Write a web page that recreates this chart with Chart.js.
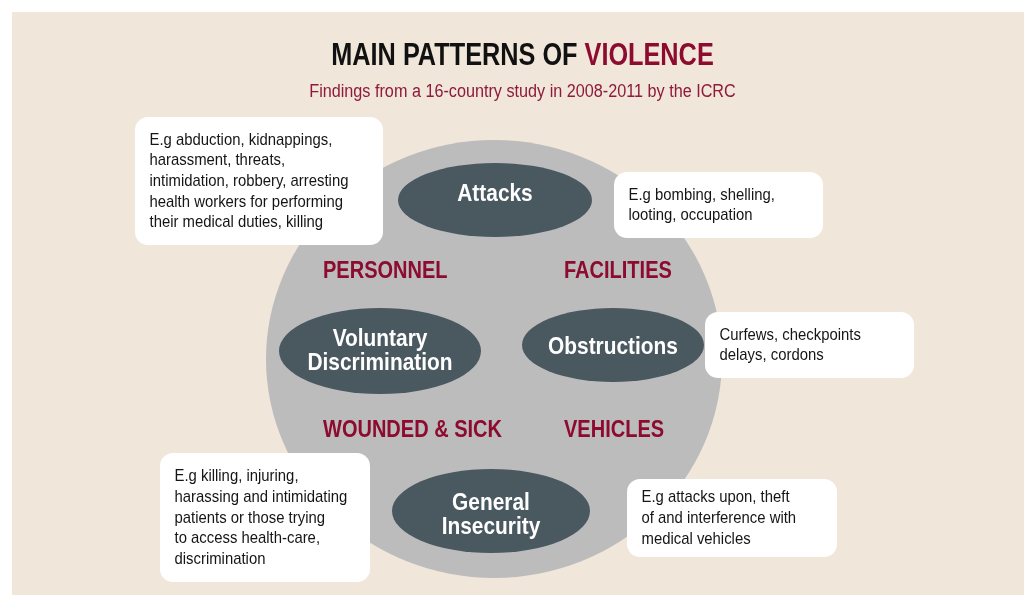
<!DOCTYPE html>
<html>
<head>
<meta charset="utf-8">
<title>Main patterns of violence</title>
<script src="https://cdn.jsdelivr.net/npm/chart.js@4"></script>
<style>
  html, body { margin: 0; padding: 0; background: #ffffff; }
  #wrap { width: 1024px; height: 595px; }
</style>
</head>
<body>
<div id="wrap"><canvas id="diagram" width="1024" height="595"></canvas></div>
<script>
// Textos do diagrama
const titleParts = ['MAIN PATTERNS OF ', 'VIOLENCE'];
const subtitle = 'Findings from a 16-country study in 2008-2011 by the ICRC';
const patterns = ['Attacks', 'Voluntary\nDiscrimination', 'Obstructions', 'General\nInsecurity'];
const categories = ['PERSONNEL', 'FACILITIES', 'WOUNDED & SICK', 'VEHICLES'];
const examples = [
  'E.g abduction, kidnappings,\nharassment, threats,\nintimidation, robbery, arresting\nhealth workers for performing\ntheir medical duties, killing',
  'E.g bombing, shelling,\nlooting, occupation',
  'Curfews, checkpoints\ndelays, cordons',
  'E.g killing, injuring,\nharassing and intimidating\npatients or those trying\nto access health-care,\ndiscrimination',
  'E.g attacks upon, theft\nof and interference with\nmedical vehicles'
];

// Layout (coordenadas no espaço da escala, 1 unidade = 1px)
const CIRCLE = { x: 494, y: 359, rx: 228, ry: 219 };
const PATTERN_POS = [
  { x: 495, y: 200, rx: 97, ry: 37, ty: 192 },
  { x: 380, y: 351, rx: 101, ry: 43, ty: 349 },
  { x: 613, y: 345, rx: 91, ry: 37, ty: 345.5 },
  { x: 491, y: 511, rx: 99, ry: 42, ty: 513 }
];
const CATEGORY_POS = [
  { x: 323, y: 278 }, { x: 564, y: 278 }, { x: 323, y: 437 }, { x: 564, y: 437 }
];
const BOX_POS = [
  { x: 135, y: 117, w: 248, h: 128 },
  { x: 614, y: 172, w: 209, h: 66 },
  { x: 705, y: 312, w: 209, h: 66 },
  { x: 160, y: 453, w: 210, h: 129 },
  { x: 627, y: 479, w: 210, h: 78 }
];

const COLORS = {
  panel: '#f0e6d9',
  circle: '#bcbcbc',
  node: '#4a5860',
  red: '#8c0b2f',
  sub: '#8f1a3c',
  text: '#151515',
  white: '#ffffff'
};

const FONT = '"Liberation Sans", Arial, sans-serif';

// Texto condensado (escala horizontal)
function condText(ctx, str, x, y, font, color, align, squeeze) {
  ctx.save();
  ctx.font = font;
  ctx.fillStyle = color;
  ctx.textBaseline = 'alphabetic';
  const w = ctx.measureText(str).width * squeeze;
  let x0 = x;
  if (align === 'center') x0 = x - w / 2;
  if (align === 'right') x0 = x - w;
  ctx.translate(x0, y);
  ctx.scale(squeeze, 1);
  ctx.textAlign = 'left';
  ctx.fillText(str, 0, 0);
  ctx.restore();
  return w;
}

function ellipse(ctx, x, y, rx, ry, color) {
  ctx.beginPath();
  ctx.ellipse(x, y, rx, ry, 0, 0, Math.PI * 2);
  ctx.fillStyle = color;
  ctx.fill();
}

function roundBox(ctx, x, y, w, h, r) {
  ctx.beginPath();
  ctx.roundRect(x, y, w, h, r);
  ctx.fillStyle = COLORS.white;
  ctx.fill();
}

const diagramPlugin = {
  id: 'diagram',
  beforeDraw(chart) {
    const { ctx } = chart;
    ctx.save();
    ctx.fillStyle = '#ffffff';
    ctx.fillRect(0, 0, chart.width, chart.height);
    ctx.fillStyle = COLORS.panel;
    ctx.fillRect(12, 12, chart.width - 12, chart.height - 12);
    ctx.restore();
  },
  afterDatasetsDraw(chart) {
    const { ctx, scales } = chart;
    const sx = scales.x, sy = scales.y;
    const dx = v => Math.abs(sx.getPixelForValue(v) - sx.getPixelForValue(0));
    const dy = v => Math.abs(sy.getPixelForValue(v) - sy.getPixelForValue(0));

    // título
    const tFont = 'bold 32px ' + FONT;
    const tSq = 0.79;
    ctx.save();
    ctx.font = tFont;
    const full = ctx.measureText(titleParts.join('')).width * tSq;
    ctx.restore();
    let tx = sx.getPixelForValue(522.5) - full / 2;
    const ty = sy.getPixelForValue(65);
    tx += condText(ctx, titleParts[0], tx, ty, tFont, '#111111', 'left', tSq);
    condText(ctx, titleParts[1], tx, ty, tFont, COLORS.red, 'left', tSq);
    condText(ctx, subtitle, sx.getPixelForValue(522.5), sy.getPixelForValue(97),
      '18px ' + FONT, COLORS.sub, 'center', 0.9);

    // círculo central
    const c = chart.getDatasetMeta(0).data[0];
    ellipse(ctx, c.x, c.y, dx(CIRCLE.rx), dy(CIRCLE.ry), COLORS.circle);

    // caixas de exemplos
    const bFont = '17px ' + FONT;
    const lh = 20.7;
    const capH = 17 * 0.716;
    chart.getDatasetMeta(3).data.forEach((pt, i) => {
      const b = BOX_POS[i];
      const w = dx(b.w), h = dy(b.h);
      roundBox(ctx, pt.x - w / 2, pt.y - h / 2, w, h, 13);
      const lines = examples[i].split('\n');
      const first = pt.y - (lines.length - 1) * lh / 2 + capH / 2 - 1;
      lines.forEach((ln, j) => {
        condText(ctx, ln, pt.x - w / 2 + 14.5, first + j * lh, bFont, COLORS.text, 'left', 0.875);
      });
    });

    // elipses dos padrões
    const nFont = 'bold 24px ' + FONT;
    chart.getDatasetMeta(1).data.forEach((pt, i) => {
      const p = PATTERN_POS[i];
      ellipse(ctx, pt.x, pt.y, dx(p.rx), dy(p.ry), COLORS.node);
      const lines = patterns[i].split('\n');
      const tyc = sy.getPixelForValue(p.ty);
      const nlh = 24;
      lines.forEach((ln, j) => {
        const by = tyc - (lines.length - 1) * nlh / 2 + j * nlh + 24 * 0.716 / 2;
        condText(ctx, ln, pt.x, by, nFont, COLORS.white, 'center', 0.87);
      });
    });

    // categorias
    chart.getDatasetMeta(2).data.forEach((pt, i) => {
      condText(ctx, categories[i], pt.x, pt.y, 'bold 23px ' + FONT, COLORS.red, 'left', 0.87);
    });
  }
};

const hidden = { pointRadius: 0, pointHoverRadius: 0, showLine: false };

new Chart(document.getElementById('diagram'), {
  type: 'scatter',
  data: {
    datasets: [
      { label: 'circle', data: [{ x: CIRCLE.x, y: CIRCLE.y }], ...hidden },
      { label: 'patterns', data: PATTERN_POS.map(p => ({ x: p.x, y: p.y })), ...hidden },
      { label: 'categories', data: CATEGORY_POS.map(p => ({ x: p.x, y: p.y })), ...hidden },
      { label: 'examples', data: BOX_POS.map(b => ({ x: b.x + b.w / 2, y: b.y + b.h / 2 })), ...hidden }
    ]
  },
  options: {
    responsive: false,
    animation: false,
    events: [],
    layout: { padding: 0 },
    plugins: {
      legend: { display: false },
      tooltip: { enabled: false }
    },
    scales: {
      x: { type: 'linear', min: 0, max: 1024, display: false },
      y: { type: 'linear', min: 0, max: 595, reverse: true, display: false }
    }
  },
  plugins: [diagramPlugin]
});
</script>
</body>
</html>
